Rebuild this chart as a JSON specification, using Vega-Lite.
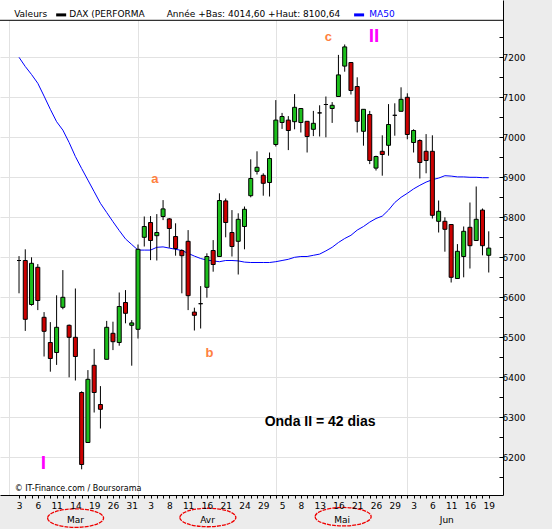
{
"$schema":"https://vega.github.io/schema/vega-lite/v6.json",
"width":503,"height":495,
"autosize":"none",
"padding":{"left":0,"top":0,"right":49,"bottom":34},
"background":"#ececec",
"config":{"view":{"fill":"white","stroke":null},"font":"DejaVu Sans"},
"datasets":{
"candles":[
{"i":0,"o":6692,"h":6703,"l":6610,"c":6692,"ma":7200},
{"i":1,"o":6692,"h":6720,"l":6516,"c":6545,"ma":7177},
{"i":2,"o":6582,"h":6700,"l":6579,"c":6685,"ma":7157},
{"i":3,"o":6675,"h":6683,"l":6568,"c":6592,"ma":7135},
{"i":4,"o":6550,"h":6563,"l":6452,"c":6515,"ma":7103},
{"i":5,"o":6487,"h":6538,"l":6414,"c":6447,"ma":7070},
{"i":6,"o":6462,"h":6605,"l":6431,"c":6525,"ma":7039},
{"i":7,"o":6575,"h":6668,"l":6570,"c":6600,"ma":7018},
{"i":8,"o":6530,"h":6532,"l":6400,"c":6500,"ma":6987},
{"i":9,"o":6500,"h":6622,"l":6392,"c":6452,"ma":6952},
{"i":10,"o":6362,"h":6365,"l":6170,"c":6182,"ma":6922},
{"i":11,"o":6237,"h":6418,"l":6237,"c":6395,"ma":6893},
{"i":12,"o":6430,"h":6471,"l":6312,"c":6362,"ma":6864},
{"i":13,"o":6332,"h":6378,"l":6272,"c":6320,"ma":6835},
{"i":14,"o":6445,"h":6541,"l":6445,"c":6525,"ma":6812},
{"i":15,"o":6510,"h":6539,"l":6468,"c":6489,"ma":6789},
{"i":16,"o":6487,"h":6612,"l":6479,"c":6577,"ma":6767},
{"i":17,"o":6587,"h":6618,"l":6535,"c":6560,"ma":6746},
{"i":18,"o":6530,"h":6543,"l":6429,"c":6536,"ma":6732},
{"i":19,"o":6520,"h":6732,"l":6497,"c":6720,"ma":6718},
{"i":20,"o":6750,"h":6802,"l":6727,"c":6777,"ma":6718},
{"i":21,"o":6787,"h":6803,"l":6693,"c":6742,"ma":6718},
{"i":22,"o":6754,"h":6808,"l":6692,"c":6762,"ma":6725},
{"i":23,"o":6802,"h":6843,"l":6793,"c":6821,"ma":6726},
{"i":24,"o":6796,"h":6798,"l":6724,"c":6772,"ma":6723},
{"i":25,"o":6752,"h":6785,"l":6704,"c":6722,"ma":6720},
{"i":26,"o":6717,"h":6720,"l":6610,"c":6704,"ma":6717},
{"i":27,"o":6740,"h":6768,"l":6568,"c":6604,"ma":6710},
{"i":28,"o":6563,"h":6574,"l":6517,"c":6555,"ma":6703},
{"i":29,"o":6584,"h":6628,"l":6522,"c":6584,"ma":6697},
{"i":30,"o":6625,"h":6710,"l":6599,"c":6702,"ma":6693},
{"i":31,"o":6717,"h":6743,"l":6664,"c":6682,"ma":6691},
{"i":32,"o":6702,"h":6860,"l":6702,"c":6842,"ma":6689},
{"i":33,"o":6841,"h":6847,"l":6750,"c":6787,"ma":6692},
{"i":34,"o":6762,"h":6818,"l":6702,"c":6727,"ma":6692},
{"i":35,"o":6740,"h":6810,"l":6657,"c":6795,"ma":6691},
{"i":36,"o":6777,"h":6827,"l":6720,"c":6820,"ma":6688},
{"i":37,"o":6854,"h":6945,"l":6850,"c":6897,"ma":6687},
{"i":38,"o":6915,"h":6965,"l":6907,"c":6925,"ma":6687},
{"i":39,"o":6905,"h":6910,"l":6854,"c":6885,"ma":6687},
{"i":40,"o":6887,"h":6962,"l":6852,"c":6947,"ma":6687},
{"i":41,"o":6982,"h":7093,"l":6977,"c":7043,"ma":6689},
{"i":42,"o":7037,"h":7061,"l":7021,"c":7052,"ma":6692},
{"i":43,"o":7043,"h":7053,"l":6968,"c":7017,"ma":6695},
{"i":44,"o":7039,"h":7108,"l":7020,"c":7075,"ma":6700},
{"i":45,"o":7037,"h":7072,"l":7012,"c":7072,"ma":6702},
{"i":46,"o":7040,"h":7040,"l":6962,"c":7002,"ma":6702},
{"i":47,"o":7020,"h":7066,"l":7003,"c":7035,"ma":6705},
{"i":48,"o":7061,"h":7080,"l":7002,"c":7061,"ma":6708},
{"i":49,"o":7082,"h":7102,"l":7000,"c":7082,"ma":6716},
{"i":50,"o":7072,"h":7088,"l":7036,"c":7080,"ma":6725},
{"i":51,"o":7102,"h":7206,"l":7102,"c":7156,"ma":6737},
{"i":52,"o":7178,"h":7232,"l":7164,"c":7226,"ma":6747},
{"i":53,"o":7187,"h":7187,"l":7107,"c":7117,"ma":6755},
{"i":54,"o":7127,"h":7150,"l":7012,"c":7040,"ma":6768},
{"i":55,"o":7015,"h":7070,"l":6979,"c":7070,"ma":6777},
{"i":56,"o":7057,"h":7066,"l":6933,"c":6942,"ma":6788},
{"i":57,"o":6923,"h":6954,"l":6917,"c":6952,"ma":6797},
{"i":58,"o":6965,"h":7005,"l":6904,"c":6957,"ma":6803},
{"i":59,"o":6980,"h":7083,"l":6954,"c":7032,"ma":6818},
{"i":60,"o":7055,"h":7085,"l":7004,"c":7055,"ma":6837},
{"i":61,"o":7065,"h":7125,"l":7065,"c":7095,"ma":6850},
{"i":62,"o":7100,"h":7110,"l":6995,"c":7007,"ma":6860},
{"i":63,"o":6987,"h":7020,"l":6962,"c":7017,"ma":6871},
{"i":64,"o":6992,"h":6995,"l":6897,"c":6937,"ma":6880},
{"i":65,"o":6965,"h":7008,"l":6910,"c":6942,"ma":6888},
{"i":66,"o":6965,"h":7005,"l":6797,"c":6805,"ma":6894},
{"i":67,"o":6790,"h":6842,"l":6762,"c":6815,"ma":6898},
{"i":68,"o":6790,"h":6800,"l":6714,"c":6770,"ma":6904},
{"i":69,"o":6782,"h":6782,"l":6637,"c":6650,"ma":6903},
{"i":70,"o":6647,"h":6733,"l":6647,"c":6715,"ma":6901},
{"i":71,"o":6702,"h":6777,"l":6650,"c":6765,"ma":6901},
{"i":72,"o":6775,"h":6837,"l":6672,"c":6729,"ma":6900},
{"i":73,"o":6742,"h":6877,"l":6742,"c":6795,"ma":6900},
{"i":74,"o":6818,"h":6822,"l":6705,"c":6729,"ma":6899},
{"i":75,"o":6705,"h":6765,"l":6662,"c":6723,"ma":6899}
]
},
"resolve":{"axis":{"x":"independent","y":"independent"}},
"layer":[
{
"data":{"values":[{"v":7292.5,"v2":7343.25}]},
"mark":{"type":"rect","fill":"white"},
"encoding":{
"y":{"field":"v","type":"quantitative","scale":{"type":"linear","domain":[6105.75,7343.25],"nice":false,"zero":false},"axis":null},
"y2":{"field":"v2"}
}
},
{
"data":{"values":[{"v":7292.5}]},
"mark":{"type":"rule","color":"black","strokeWidth":1},
"encoding":{
"y":{"field":"v","type":"quantitative","scale":{"type":"linear","domain":[6105.75,7343.25],"nice":false,"zero":false},"axis":null}
}
},
{
"data":{"name":"candles"},
"mark":{"type":"line","color":"#0000ff","strokeWidth":1},
"encoding":{
"x":{"field":"i","type":"quantitative","scale":{"type":"linear","domain":[-2.238,76.479],"nice":false,"zero":false},"axis":null},
"y":{"field":"ma","type":"quantitative","scale":{"type":"linear","domain":[6105.75,7343.25],"nice":false,"zero":false},"axis":null}
}
},
{
"data":{"name":"candles"},
"mark":{"type":"rule","color":"black","strokeWidth":1},
"encoding":{
"x":{"field":"i","type":"quantitative","scale":{"type":"linear","domain":[-2.238,76.479],"nice":false,"zero":false},
"axis":{"orient":"top","values":[-1.53,19,41,62],"grid":true,"gridColor":"#e2e2e2","gridWidth":1,"ticks":false,"labels":false,"domain":false,"title":null}},
"y":{"field":"l","type":"quantitative","scale":{"type":"linear","domain":[6105.75,7343.25],"nice":false,"zero":false},
"axis":{"orient":"left","values":[6200,6300,6400,6500,6600,6700,6800,6900,7000,7100,7200],"grid":true,"gridColor":"#e2e2e2","gridWidth":1,"ticks":false,"labels":false,"domain":false,"title":null}},
"y2":{"field":"h"}
}
},
{
"data":{"name":"candles"},
"mark":{"type":"bar","size":4,"stroke":"black","strokeWidth":1},
"encoding":{
"x":{"field":"i","type":"quantitative","scale":{"type":"linear","domain":[-2.238,76.479],"nice":false,"zero":false},
"axis":{"orient":"bottom","zindex":1,"values":[0,1,2,3,4,5,6,7,8,9,10,11,12,13,14,15,16,17,18,19,20,21,22,23,24,25,26,27,28,29,30,31,32,33,34,35,36,37,38,39,40,41,42,43,44,45,46,47,48,49,50,51,52,53,54,55,56,57,58,59,60,61,62,63,64,65,66,67,68,69,70,71,72,73,74,75],
"labelExpr":"datum.value % 3 === 0 ? ['3','6','11','14','19','26','31','3','8','11','16','21','24','29','5','8','13','16','21','26','29','3','6','11','16','19'][datum.value / 3] : ''",
"grid":false,"tickSize":3,"tickColor":"black","domainColor":"black","labelColor":"black","labelFont":"DejaVu Sans","labelFontSize":9,"labelPadding":3,"labelOverlap":false,"labelFlush":false,"labelBound":false,"title":null}},
"y":{"field":"o","type":"quantitative","scale":{"type":"linear","domain":[6105.75,7343.25],"nice":false,"zero":false},
"axis":{"orient":"right","zindex":1,"values":[6150,6200,6250,6300,6350,6400,6450,6500,6550,6600,6650,6700,6750,6800,6850,6900,6950,7000,7050,7100,7150,7200,7250],
"labelExpr":"datum.value % 100 === 0 ? '' + datum.value : ''",
"grid":false,"tickSize":-4,"tickColor":"black","domainColor":"black","labelColor":"black","labelFont":"DejaVu Sans","labelFontSize":9,"labelPadding":3,"labelOverlap":false,"labelFlush":false,"labelBound":false,"title":null}},
"y2":{"field":"c"},
"fill":{"condition":{"test":"datum.c < datum.o","value":"#cc0000"},"value":"#1cbf1c"}
}
},
{
"data":{"values":[{"i":21.7,"v":6897,"t":"a"},{"i":30.4,"v":6462,"t":"b"},{"i":49.4,"v":7251,"t":"c"}]},
"mark":{"type":"text","font":"Liberation Sans","fontWeight":"bold","fontSize":13,"color":"#ff8040","align":"center","baseline":"middle"},
"encoding":{
"x":{"field":"i","type":"quantitative","scale":{"type":"linear","domain":[-2.238,76.479],"nice":false,"zero":false},"axis":null},
"y":{"field":"v","type":"quantitative","scale":{"type":"linear","domain":[6105.75,7343.25],"nice":false,"zero":false},"axis":null},
"text":{"field":"t"}
}
},
{
"data":{"values":[{"i":3.9,"v":6186,"t":"I"},{"i":56.7,"v":7254,"t":"II"}]},
"mark":{"type":"text","font":"Liberation Sans","fontWeight":"bold","fontSize":19,"color":"#ff00ff","align":"center","baseline":"middle"},
"encoding":{
"x":{"field":"i","type":"quantitative","scale":{"type":"linear","domain":[-2.238,76.479],"nice":false,"zero":false},"axis":null},
"y":{"field":"v","type":"quantitative","scale":{"type":"linear","domain":[6105.75,7343.25],"nice":false,"zero":false},"axis":null},
"text":{"field":"t"}
}
},
{
"data":{"values":[{"i":48.07,"v":6288,"t":"Onda II = 42 dias"}]},
"mark":{"type":"text","font":"Liberation Sans","fontWeight":"bold","fontSize":14,"color":"black","align":"center","baseline":"middle"},
"encoding":{
"x":{"field":"i","type":"quantitative","scale":{"type":"linear","domain":[-2.238,76.479],"nice":false,"zero":false},"axis":null},
"y":{"field":"v","type":"quantitative","scale":{"type":"linear","domain":[6105.75,7343.25],"nice":false,"zero":false},"axis":null},
"text":{"field":"t"}
}
},
{
"data":{"values":[{"i":-0.69,"v":6119.75,"t":"© IT-Finance.com / Boursorama"}]},
"mark":{"type":"text","font":"DejaVu Sans","fontSize":8,"color":"black","align":"left","baseline":"middle"},
"encoding":{
"x":{"field":"i","type":"quantitative","scale":{"type":"linear","domain":[-2.238,76.479],"nice":false,"zero":false},"axis":null},
"y":{"field":"v","type":"quantitative","scale":{"type":"linear","domain":[6105.75,7343.25],"nice":false,"zero":false},"axis":null},
"text":{"field":"t"}
}
},
{
"data":{"values":[{"i":-0.78,"v":7300,"t":"Valeurs"},{"i":8.04,"v":7300,"t":"DAX (PERFORMA"},{"i":23.58,"v":7300,"t":"Année +Bas: 4014,60 +Haut: 8100,64"}]},
"mark":{"type":"text","font":"DejaVu Sans","fontSize":9,"color":"black","align":"left","baseline":"alphabetic"},
"encoding":{
"x":{"field":"i","type":"quantitative","scale":{"type":"linear","domain":[-2.238,76.479],"nice":false,"zero":false},"axis":null},
"y":{"field":"v","type":"quantitative","scale":{"type":"linear","domain":[6105.75,7343.25],"nice":false,"zero":false},"axis":null},
"text":{"field":"t"}
}
},
{
"data":{"values":[{"i":55.93,"v":7300,"t":"MA50"}]},
"mark":{"type":"text","font":"DejaVu Sans","fontSize":9,"color":"#0000ff","align":"left","baseline":"alphabetic"},
"encoding":{
"x":{"field":"i","type":"quantitative","scale":{"type":"linear","domain":[-2.238,76.479],"nice":false,"zero":false},"axis":null},
"y":{"field":"v","type":"quantitative","scale":{"type":"linear","domain":[6105.75,7343.25],"nice":false,"zero":false},"axis":null},
"text":{"field":"t"}
}
},
{
"data":{"values":[{"i":6.73,"v":7306}]},
"mark":{"type":"point","shape":"M-1,-0.3L1,-0.3L1,0.3L-1,0.3Z","size":100,"filled":true,"color":"black","opacity":1},
"encoding":{
"x":{"field":"i","type":"quantitative","scale":{"type":"linear","domain":[-2.238,76.479],"nice":false,"zero":false},"axis":null},
"y":{"field":"v","type":"quantitative","scale":{"type":"linear","domain":[6105.75,7343.25],"nice":false,"zero":false},"axis":null}
}
},
{
"data":{"values":[{"i":54.3,"v":7306}]},
"mark":{"type":"point","shape":"M-1,-0.3L1,-0.3L1,0.3L-1,0.3Z","size":100,"filled":true,"color":"#0000ff","opacity":1},
"encoding":{
"x":{"field":"i","type":"quantitative","scale":{"type":"linear","domain":[-2.238,76.479],"nice":false,"zero":false},"axis":null},
"y":{"field":"v","type":"quantitative","scale":{"type":"linear","domain":[6105.75,7343.25],"nice":false,"zero":false},"axis":null}
}
},
{
"data":{"values":[{"i":9,"v":6043,"t":"Mar"},{"i":30.1,"v":6043,"t":"Avr"},{"i":51.6,"v":6043,"t":"Mai"},{"i":68.3,"v":6043,"t":"Jun"}]},
"mark":{"type":"text","font":"DejaVu Sans","fontSize":9,"color":"black","align":"center","baseline":"middle"},
"encoding":{
"x":{"field":"i","type":"quantitative","scale":{"type":"linear","domain":[-2.238,76.479],"nice":false,"zero":false},"axis":null},
"y":{"field":"v","type":"quantitative","scale":{"type":"linear","domain":[6105.75,7343.25],"nice":false,"zero":false},"axis":null},
"text":{"field":"t"}
}
},
{
"data":{"values":[{"i":9.03,"v":6048},{"i":30.15,"v":6049.5},{"i":51.75,"v":6051.5}]},
"mark":{"type":"point","shape":"M-1,0A1,0.33,0,1,0,1,0A1,0.33,0,1,0,-1,0Z","size":3136,"filled":false,"stroke":"#ee0000","strokeWidth":1.3,"strokeDash":[4,1],"opacity":1},
"encoding":{
"x":{"field":"i","type":"quantitative","scale":{"type":"linear","domain":[-2.238,76.479],"nice":false,"zero":false},"axis":null},
"y":{"field":"v","type":"quantitative","scale":{"type":"linear","domain":[6105.75,7343.25],"nice":false,"zero":false},"axis":null}
}
}
]
}
